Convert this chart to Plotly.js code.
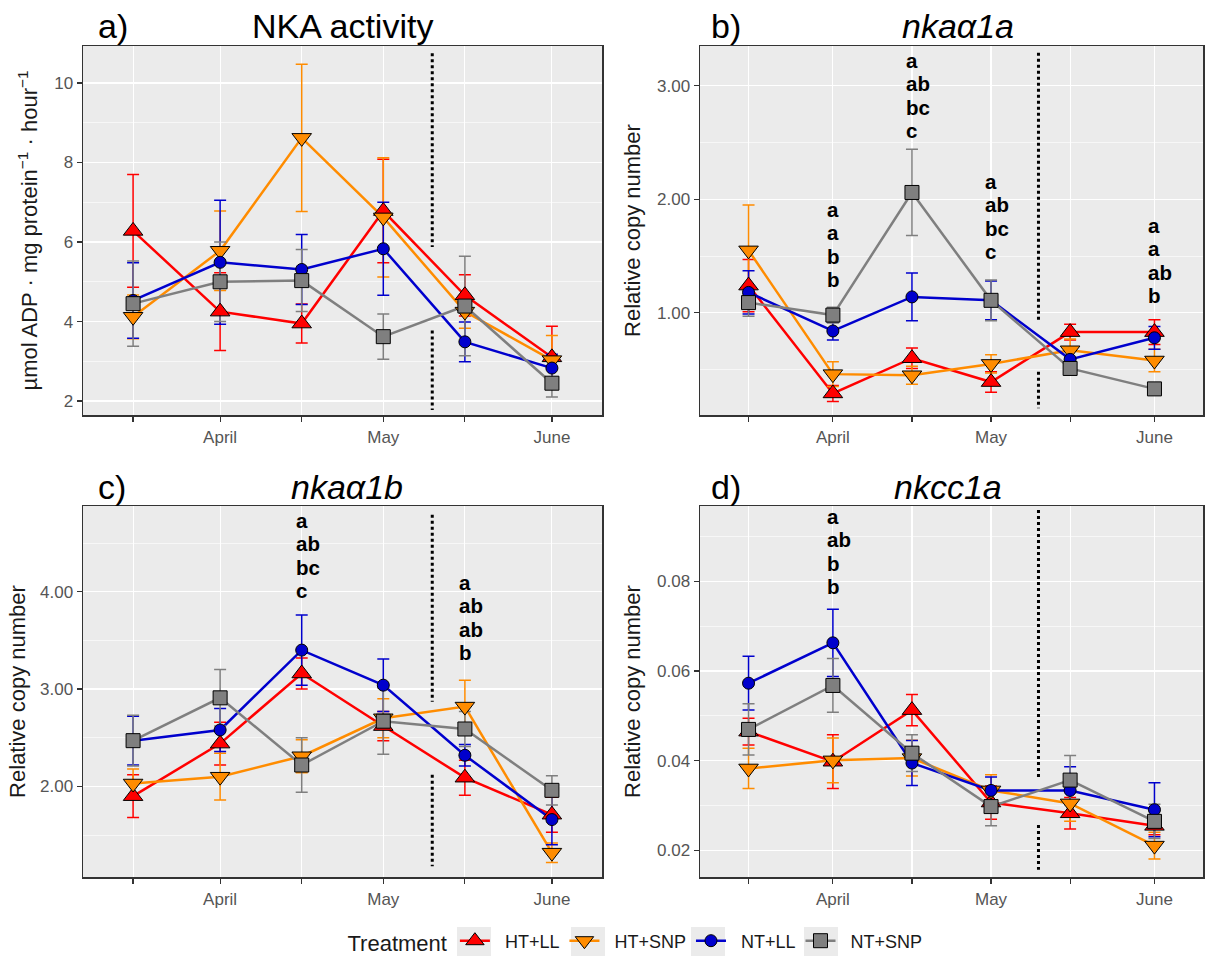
<!DOCTYPE html>
<html>
<head>
<meta charset="utf-8">
<script src="https://cdn.plot.ly/plotly-3.0.1.min.js"></script>
<style>html,body{margin:0;padding:0;background:#fff;}#chart{width:1210px;height:956px;}</style>
</head>
<body>
<div id="chart"></div>
<script>
// ---------- DATA ----------
const dates = ['2019-03-16', '2019-04-01', '2019-04-16', '2019-05-01', '2019-05-16', '2019-06-01'];
const monthTicks = ['2019-04-01', '2019-05-01', '2019-06-01'];
const monthLabels = ['April', 'May', 'June'];
const midTicks = ['2019-03-16', '2019-04-16', '2019-05-16'];
const treatments = ['HT+LL', 'HT+SNP', 'NT+LL', 'NT+SNP'];
const transferDate = '2019-05-10';

// a) NKA activity
const nka_HTLL = [6.28, 4.25, 3.95, 6.78, 4.66, 3.10];
const nka_HTLL_se = [1.42, 0.98, 0.49, 1.30, 0.52, 0.78];
const nka_HTSNP = [4.12, 5.78, 8.62, 6.62, 4.25, 3.03];
const nka_HTSNP_se = [0.55, 1.00, 1.85, 1.50, 0.42, 0.62];
const nka_NTLL = [4.53, 5.49, 5.31, 5.83, 3.49, 2.83];
const nka_NTLL_se = [0.95, 1.56, 0.88, 1.17, 0.50, 0.35];
const nka_NTSNP = [4.45, 5.00, 5.03, 3.62, 4.39, 2.45];
const nka_NTSNP_se = [1.07, 1.00, 0.78, 0.57, 1.25, 0.35];

// b) nkaα1a
const a1a_HTLL = [1.24, 0.29, 0.60, 0.39, 0.83, 0.83];
const a1a_HTLL_se = [0.23, 0.07, 0.09, 0.09, 0.07, 0.11];
const a1a_HTSNP = [1.55, 0.46, 0.45, 0.55, 0.67, 0.58];
const a1a_HTSNP_se = [0.40, 0.11, 0.08, 0.08, 0.10, 0.10];
const a1a_NTLL = [1.18, 0.84, 1.14, 1.11, 0.59, 0.78];
const a1a_NTLL_se = [0.19, 0.08, 0.21, 0.17, 0.08, 0.10];
const a1a_NTSNP = [1.09, 0.98, 2.06, 1.11, 0.51, 0.33];
const a1a_NTSNP_se = [0.12, 0.07, 0.38, 0.18, 0.06, 0.04];

// c) nkaα1b
const a1b_HTLL = [1.90, 2.44, 3.16, 2.62, 2.09, 1.71];
const a1b_HTLL_se = [0.22, 0.22, 0.16, 0.15, 0.18, 0.18];
const a1b_HTSNP = [2.03, 2.10, 2.31, 2.70, 2.82, 1.32];
const a1b_HTSNP_se = [0.15, 0.24, 0.17, 0.20, 0.27, 0.10];
const a1b_NTLL = [2.47, 2.58, 3.40, 3.04, 2.32, 1.66];
const a1b_NTLL_se = [0.25, 0.22, 0.36, 0.27, 0.11, 0.26];
const a1b_NTSNP = [2.47, 2.91, 2.22, 2.67, 2.59, 1.96];
const a1b_NTSNP_se = [0.26, 0.29, 0.28, 0.34, 0.18, 0.15];

// d) nkcc1a
const cc_HTLL = [0.0465, 0.0398, 0.0513, 0.0307, 0.0283, 0.0255];
const cc_HTLL_se = [0.0030, 0.0060, 0.0035, 0.0037, 0.0035, 0.0020];
const cc_HTSNP = [0.0383, 0.0401, 0.0406, 0.0334, 0.0305, 0.0211];
const cc_HTSNP_se = [0.0045, 0.0050, 0.0040, 0.0035, 0.0040, 0.0030];
const cc_NTLL = [0.0573, 0.0663, 0.0395, 0.0334, 0.0334, 0.0291];
const cc_NTLL_se = [0.0060, 0.0075, 0.0050, 0.0030, 0.0053, 0.0060];
const cc_NTSNP = [0.0470, 0.0568, 0.0417, 0.0298, 0.0357, 0.0265];
const cc_NTSNP_se = [0.0057, 0.0060, 0.0041, 0.0043, 0.0055, 0.0038];

// significance letters
const sig_b_apr = ['a', 'a', 'b', 'b'];
const sig_b_midapr = ['a', 'ab', 'bc', 'c'];
const sig_b_may = ['a', 'ab', 'bc', 'c'];
const sig_b_jun = ['a', 'a', 'ab', 'b'];
const sig_c_midapr = ['a', 'ab', 'bc', 'c'];
const sig_c_midmay = ['a', 'ab', 'ab', 'b'];
const sig_d_apr = ['a', 'ab', 'b', 'b'];

// ---------- STYLE ----------
const colors = ['#FF0000', '#FF8C00', '#0000CD', '#7F7F7F'];
const symbols = ['triangle-up', 'triangle-down', 'circle', 'square'];
const sizes = [17, 17, 12, 14];
const FONT = 'Liberation Sans, Arial, sans-serif';
const W = 1210, H = 956;
const NB = '\u00A0';

const panels = [
  {xa: 'x', ya: 'y', series: [[nka_HTLL, nka_HTLL_se], [nka_HTSNP, nka_HTSNP_se], [nka_NTLL, nka_NTLL_se], [nka_NTSNP, nka_NTSNP_se]],
   dotted: [[10.75, 5.875], [3.775, 1.775]]},
  {xa: 'x2', ya: 'y2', series: [[a1a_HTLL, a1a_HTLL_se], [a1a_HTSNP, a1a_HTSNP_se], [a1a_NTLL, a1a_NTLL_se], [a1a_NTSNP, a1a_NTSNP_se]],
   dotted: [[3.29, 0.93], [0.48, 0.16]]},
  {xa: 'x3', ya: 'y3', series: [[a1b_HTLL, a1b_HTLL_se], [a1b_HTSNP, a1b_HTSNP_se], [a1b_NTLL, a1b_NTLL_se], [a1b_NTSNP, a1b_NTSNP_se]],
   dotted: [[4.79, 2.87], [2.12, 1.18]]},
  {xa: 'x4', ya: 'y4', series: [[cc_HTLL, cc_HTLL_se], [cc_HTSNP, cc_HTSNP_se], [cc_NTLL, cc_NTLL_se], [cc_NTSNP, cc_NTSNP_se]],
   dotted: [[0.0959, 0.0362], [0.0257, 0.0157]]}
];

const traces = [];
panels.forEach(p => {
  p.series.forEach((s, i) => {
    traces.push({
      type: 'scatter', mode: 'lines', x: dates, y: s[0], xaxis: p.xa, yaxis: p.ya,
      line: {color: colors[i], width: 2.5}, showlegend: false, hoverinfo: 'skip',
      error_y: {type: 'data', array: s[1], visible: true, color: colors[i], thickness: 1.5, width: 6}
    });
  });
  p.series.forEach((s, i) => {
    traces.push({
      type: 'scatter', mode: 'markers', x: dates, y: s[0], xaxis: p.xa, yaxis: p.ya,
      marker: {color: colors[i], symbol: symbols[i], size: sizes[i], line: {color: '#000', width: 1}},
      showlegend: false, name: treatments[i]
    });
  });
});
treatments.forEach((t, i) => {
  traces.push({
    type: 'scatter', mode: 'lines+markers', x: [null], y: [null], xaxis: 'x', yaxis: 'y',
    name: NB + NB + t,
    line: {color: colors[i], width: 2.5},
    marker: {color: colors[i], symbol: symbols[i], size: sizes[i], line: {color: '#000', width: 1}},
    showlegend: true
  });
});

function xAxis(domain, anchor) {
  return {
    domain: domain, anchor: anchor, type: 'date',
    range: ['2019-03-06 19:00', '2019-06-10 05:00'],
    tickmode: 'array', tickvals: monthTicks, ticktext: monthLabels,
    showgrid: true, gridcolor: '#FFFFFF', gridwidth: 1.1,
    minor: {tickmode: 'array', tickvals: midTicks, ticks: 'outside', ticklen: 5, tickwidth: 1.2, tickcolor: '#333',
      showgrid: true, gridcolor: '#FFFFFF', gridwidth: 1.1},
    ticks: 'outside', ticklen: 5, tickwidth: 1.2, tickcolor: '#333',
    ticklabelstandoff: 1,
    showline: true, mirror: true, linecolor: '#333', linewidth: 1.5, zeroline: false,
    tickfont: {family: FONT, size: 17, color: '#555'}
  };
}
function yAxis(domain, anchor, range, tickvals, minorvals, fmt, title, standoff) {
  return {
    domain: domain, anchor: anchor, range: range,
    tickmode: 'array', tickvals: tickvals, tickformat: fmt,
    showgrid: true, gridcolor: '#FFFFFF', gridwidth: 1.2,
    minor: {tickmode: 'array', tickvals: minorvals, showgrid: true, gridcolor: '#FFFFFF', gridwidth: 0.6, ticks: ''},
    ticks: 'outside', ticklen: 5, tickwidth: 1.2, tickcolor: '#333',
    showline: true, mirror: true, linecolor: '#333', linewidth: 1.5, zeroline: false,
    tickfont: {family: FONT, size: 17, color: '#555'},
    title: {text: title, font: {family: FONT, size: 22, color: '#1a1a1a'}, standoff: standoff}
  };
}

const xA = [83 / W, 602 / W], xB = [700 / W, 1203 / W];
const yTop = [1 - 415 / H, 1 - 46 / H], yBot = [1 - 877 / H, 1 - 506 / H];

const shapes = [];
panels.forEach(p => {
  p.dotted.forEach(seg => {
    shapes.push({type: 'line', xref: p.xa, yref: p.ya, x0: transferDate, x1: transferDate, y0: seg[0], y1: seg[1],
      line: {color: '#000', width: 3, dash: 'dot'}});
  });
});
// grey legend key backgrounds (ggplot style)
[[457, 491], [571, 605], [691, 725], [804, 838]].forEach(k => {
  shapes.push({type: 'rect', xref: 'paper', yref: 'paper', x0: k[0] / W, x1: k[1] / W, y0: 1 - 956 / H, y1: 1 - 927 / H,
    fillcolor: '#EBEBEB', line: {width: 0}, layer: 'below'});
});

const annotations = [];
function title(letter, text, xLetterPx, xCenterPx, yPx) {
  annotations.push({xref: 'paper', yref: 'paper', x: xLetterPx / W, y: 1 - yPx / H, xanchor: 'left', yanchor: 'middle',
    text: letter, showarrow: false, borderpad: 0, font: {family: FONT, size: 34, color: '#000'}});
  annotations.push({xref: 'paper', yref: 'paper', x: xCenterPx / W, y: 1 - yPx / H, xanchor: 'center', yanchor: 'middle',
    text: text, showarrow: false, borderpad: 0, font: {family: FONT, size: 34, color: '#000'}});
}
title('a)', 'NKA activity', 97, 342, 26);
title('b)', '<i>nkaα1a</i>', 710, 958, 26);
title('c)', '<i>nkaα1b</i>', 97, 347, 487);
title('d)', '<i>nkcc1a</i>', 710, 948, 487);

// significance letters: one text block per group, tight line pitch like the original
const PITCH = 23.3;
const SIGSIZE = 20.5;
function sig(xref, xdate, firstLinePx, lines) {
  const centrePx = firstLinePx + (lines.length - 1) * PITCH / 2 - 1.8;
  const txt = lines.map(t => '<b><span style="font-size:' + SIGSIZE + 'px">' + t + '</span></b>').join('<br>');
  annotations.push({xref: xref, yref: 'paper', x: xdate, y: 1 - centrePx / H, xanchor: 'left', yanchor: 'middle',
    xshift: -7, align: 'left', borderpad: 0, text: txt, showarrow: false,
    font: {family: FONT, size: PITCH / 1.3, color: '#000'}});
}
sig('x2', dates[1], 211, sig_b_apr);
sig('x2', dates[2], 62, sig_b_midapr);
sig('x2', dates[3], 183, sig_b_may);
sig('x2', dates[5], 227, sig_b_jun);
sig('x3', dates[2], 522, sig_c_midapr);
sig('x3', dates[4], 584, sig_c_midmay);
sig('x4', dates[1], 518, sig_d_apr);

const layout = {
  width: W, height: H, margin: {l: 0, r: 0, t: 0, b: 0, autoexpand: false},
  paper_bgcolor: '#FFFFFF', plot_bgcolor: '#EBEBEB',
  font: {family: FONT, color: '#1a1a1a'},
  xaxis: xAxis(xA, 'y'), yaxis: yAxis(yTop, 'x', [1.65, 10.93], [2, 4, 6, 8, 10], [3, 5, 7, 9], 'd',
    'µmol ADP · mg protein<sup>−1</sup> · hour<sup>−1</sup>', 10),
  xaxis2: xAxis(xB, 'y2'), yaxis2: yAxis(yTop, 'x2', [0.10, 3.35], [1, 2, 3], [0.5, 1.5, 2.5], '.2f', 'Relative copy number', 10),
  xaxis3: xAxis(xA, 'y3'), yaxis3: yAxis(yBot, 'x3', [1.07, 4.88], [2, 3, 4], [1.5, 2.5, 3.5, 4.5], '.2f', 'Relative copy number', 8),
  xaxis4: xAxis(xB, 'y4'), yaxis4: yAxis(yBot, 'x4', [0.0141, 0.0968], [0.02, 0.04, 0.06, 0.08], [0.03, 0.05, 0.07, 0.09], '.2f', 'Relative copy number', 10),
  shapes: shapes,
  annotations: annotations,
  showlegend: true,
  legend: {orientation: 'h', x: 0.526, xanchor: 'center', y: 1 - 942 / H, yanchor: 'middle',
    title: {text: 'Treatment', side: 'left', font: {family: FONT, size: 22, color: '#1a1a1a'}},
    font: {family: FONT, size: 18, color: '#1a1a1a'}, bgcolor: 'rgba(0,0,0,0)'}
};

Plotly.newPlot('chart', traces, layout, {displayModeBar: false, staticPlot: true});
</script>
</body>
</html>
